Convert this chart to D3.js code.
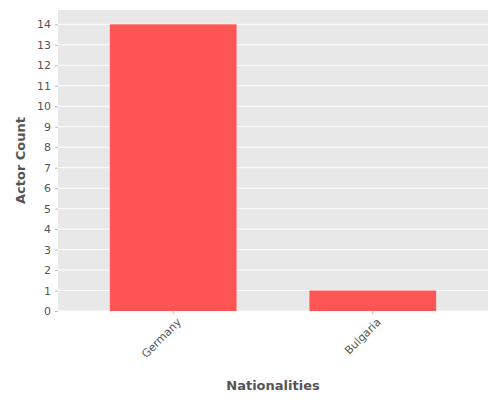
<!DOCTYPE html>
<html><head><meta charset="utf-8">
<script src="https://cdn.jsdelivr.net/npm/d3@7"></script>
<style>body{margin:0;background:#fff}text{font-family:"DejaVu Sans",sans-serif}</style>
</head><body><div id="chart"></div>
<script>
var categories = ['Germany', 'Bulgaria'];
var counts = [14, 1];
var yTicks = d3.range(0, 15);

(function () {
  var width = 500, height = 400;
  var mLeft = 58, mRight = 488, mTop = 10, mBottom = 311;
  var svg = d3.select('#chart').append('svg').attr('width', width).attr('height', height);

  var x = d3.scaleBand().domain(categories).range([37, 509]).padding(0.365);
  var y = d3.scaleLinear().domain([0, 14.7]).range([mBottom, mTop]);

  svg.append('rect').attr('x', mLeft).attr('y', mTop)
    .attr('width', mRight - mLeft).attr('height', mBottom - mTop).attr('fill', '#e8e8e8');

  svg.selectAll('.grid').data(yTicks).enter().append('line')
    .attr('x1', mLeft).attr('x2', mRight)
    .attr('y1', d => y(d)).attr('y2', d => y(d))
    .attr('stroke', '#fff').attr('stroke-width', 1);

  svg.selectAll('.bar').data(counts).enter().append('rect')
    .attr('x', (d, i) => x(categories[i])).attr('width', x.bandwidth())
    .attr('y', d => y(d)).attr('height', d => mBottom - y(d))
    .attr('fill', '#ff5555');

  var ya = svg.append('g').attr('transform', 'translate(' + mLeft + ',0)')
    .call(d3.axisLeft(y).tickValues(yTicks).tickSize(3).tickPadding(4));
  ya.select('.domain').remove();
  ya.selectAll('line').attr('stroke', '#bbb');
  ya.selectAll('text').attr('fill', '#555').attr('font-size', 11);

  var xa = svg.append('g').attr('transform', 'translate(0,' + mBottom + ')')
    .call(d3.axisBottom(x).tickSize(3));
  xa.select('.domain').remove();
  xa.selectAll('line').attr('stroke', '#bbb');
  xa.selectAll('text').attr('fill', '#555').attr('font-size', 11)
    .attr('text-anchor', 'end').attr('x', 0).attr('y', 0).attr('dy', '0.35em')
    .attr('transform', 'translate(6,9)rotate(-45)');

  svg.append('text').attr('x', (mLeft + mRight) / 2).attr('y', 390)
    .attr('text-anchor', 'middle').attr('font-size', 13).attr('font-weight', 'bold')
    .attr('fill', '#555').text('Nationalities');
  svg.append('text').attr('transform', 'translate(25,' + (mTop + mBottom) / 2 + ')rotate(-90)')
    .attr('text-anchor', 'middle').attr('font-size', 13).attr('font-weight', 'bold')
    .attr('fill', '#555').text('Actor Count');
})();
</script></body></html>
